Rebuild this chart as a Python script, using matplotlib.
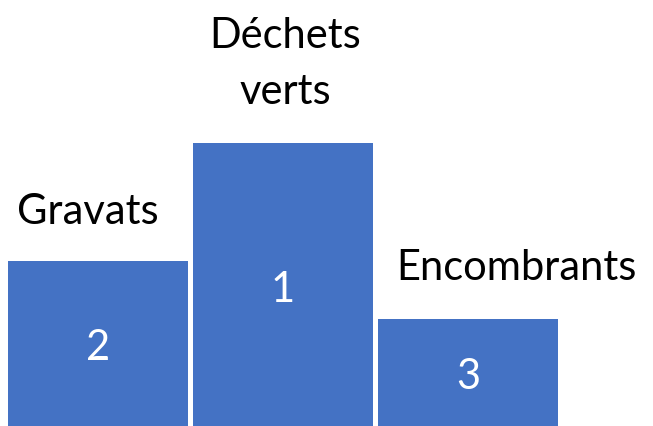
import matplotlib.pyplot as plt

labels = ["Gravats", "Déchets\nverts", "Encombrants"]
ranks = ["2", "1", "3"]
heights = [165, 283, 107]

fig = plt.figure(figsize=(6.53, 4.27), dpi=100)
ax = fig.add_axes([0, 0, 1, 1])
ax.set_xlim(-0.53, 3.0)
ax.set_ylim(0, 427)
ax.axis("off")

xs = range(len(heights))
ax.bar(xs, heights, width=0.972, color="#4472C4")

# label offsets above bar top, in pixels
label_off = [(-10, 50), (2, 80), (48, 52)]
for x, h, lab, r, (dx, dy) in zip(xs, heights, labels, ranks, label_off):
    ax.annotate(lab, (x, h), xytext=(dx * 0.72, dy * 0.72), textcoords="offset points",
                ha="center", va="center", fontsize=30, family="Lato",
                linespacing=1.6)
    ax.text(x, h / 2 - 4, r, ha="center", va="center",
            color="white", fontsize=30, family="Lato")

fig.savefig("out.png", dpi=100)
